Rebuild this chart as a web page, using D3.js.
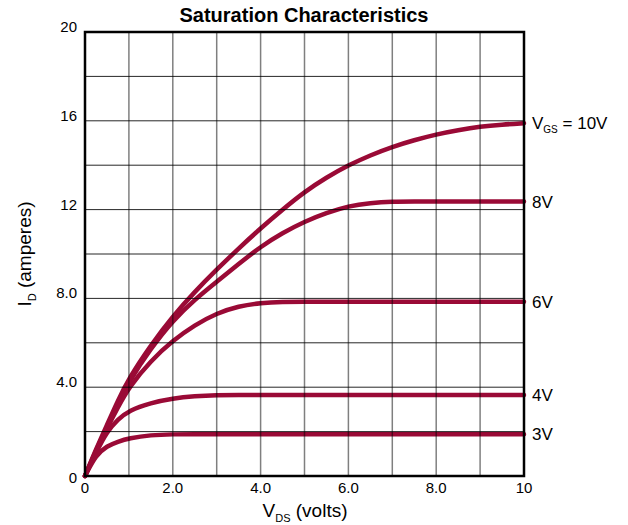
<!DOCTYPE html>
<html>
  <head>
    <meta charset="utf-8">
    <title>Saturation Characteristics</title>
    <script src="https://d3js.org/d3.v7.min.js"></script>
    <style>
      body { margin: 0; background: #fff; }
      svg text { font-family: "Liberation Sans", Arial, sans-serif; fill: #000; }
      .title { font-size: 20px; font-weight: bold; }
      .tick { font-size: 15px; }
      .axisTitle { font-size: 19px; }
      .curveLabel { font-size: 17px; }
    </style>
  </head>
  <body>
    <svg id="chart" width="628" height="525"></svg>
    <script>
      // data
      vds = [0, 0.25, 0.5, 0.75, 1, 1.5, 2, 2.5, 3, 3.5, 4, 4.5, 5, 5.5, 6, 6.5, 7, 7.5, 8, 8.5, 9, 9.5, 10];
      id10 = [0, 1.2, 2.3, 3.4, 4.4, 5.9, 7.2, 8.3, 9.3, 10.25, 11.16, 12.0, 12.8, 13.45, 14.0, 14.45, 14.83, 15.13, 15.39, 15.58, 15.74, 15.83, 15.89];
      id8 = [0, 1.15, 2.2, 3.25, 4.25, 5.75, 7.0, 7.95, 8.75, 9.55, 10.33, 10.95, 11.46, 11.85, 12.16, 12.3, 12.36, 12.36, 12.36, 12.36, 12.36, 12.36, 12.36];
      id6 = [0, 1.1, 2.15, 3.1, 4.0, 5.2, 6.1, 6.8, 7.33, 7.65, 7.8, 7.85, 7.85, 7.85, 7.85, 7.85, 7.85, 7.85, 7.85, 7.85, 7.85, 7.85, 7.85];
      id4 = [0, 1.05, 2.0, 2.55, 2.95, 3.3, 3.5, 3.6, 3.65, 3.65, 3.65, 3.65, 3.65, 3.65, 3.65, 3.65, 3.65, 3.65, 3.65, 3.65, 3.65, 3.65, 3.65];
      id3 = [0, 0.95, 1.35, 1.55, 1.7, 1.85, 1.88, 1.88, 1.88, 1.88, 1.88, 1.88, 1.88, 1.88, 1.88, 1.88, 1.88, 1.88, 1.88, 1.88, 1.88, 1.88, 1.88];
      series = [id10, id8, id6, id4, id3];
      curveLabels = ["= 10V", "8V", "6V", "4V", "3V"];
      xTicks = [0, 2, 4, 6, 8, 10];
      xTickLabels = ["0", "2.0", "4.0", "6.0", "8.0", "10"];
      yTicks = [0, 4, 8, 12, 16, 20];
      yTickLabels = ["0", "4.0", "8.0", "12", "16", "20"];

      chart = d3.select("#chart");
      left = 85; right = 524; top_ = 32; bottom = 476;

      x = d3.scaleLinear().domain([0, 10]).range([left, right]);
      y = d3.scaleLinear().domain([0, 20]).range([bottom, top_]);

      // basis smooths out reading noise in the points
      line = d3.line()
        .x(function(d, i) { return x(vds[i]); })
        .y(function(d) { return y(d); })
        .curve(d3.curveBasis);

      // curves
      chart.append("g").selectAll("path")
          .data(series)
        .enter().append("path")
          .attr("d", line)
          .attr("fill", "none")
          .attr("stroke", "#9a0a36")
          .attr("stroke-width", 4.5)
          .attr("stroke-linecap", "round");

      // grid (drawn over the curves)
      chart.append("g").selectAll("line")
          .data(d3.range(1, 10))
        .enter().append("line")
          .attr("x1", function(d) { return x(d); })
          .attr("x2", function(d) { return x(d); })
          .attr("y1", top_).attr("y2", bottom)
          .attr("stroke", "#000").attr("stroke-opacity", 0.5).attr("stroke-width", 1.5);
      chart.append("g").selectAll("line")
          .data(d3.range(2, 20, 2))
        .enter().append("line")
          .attr("y1", function(d) { return y(d); })
          .attr("y2", function(d) { return y(d); })
          .attr("x1", left).attr("x2", right)
          .attr("stroke", "#000").attr("stroke-opacity", 0.85).attr("stroke-width", 1);

      chart.append("rect")
        .attr("x", left).attr("y", top_)
        .attr("width", right - left).attr("height", bottom - top_)
        .attr("fill", "none").attr("stroke", "#000").attr("stroke-width", 2.5);

      // ticks
      chart.append("g").selectAll("text")
          .data(xTicks)
        .enter().append("text")
          .classed("tick", true)
          .attr("x", function(d) { return x(d); })
          .attr("y", bottom + 17)
          .attr("text-anchor", "middle")
          .text(function(d, i) { return xTickLabels[i]; });
      chart.append("g").selectAll("text")
          .data(yTicks)
        .enter().append("text")
          .classed("tick", true)
          .attr("x", left - 8)
          .attr("y", function(d) { return y(d) + (d === 0 ? 7 : 0); })
          .attr("text-anchor", "end")
          .text(function(d, i) { return yTickLabels[i]; });

      // curve labels
      labels = chart.append("g").selectAll("text")
          .data(series)
        .enter().append("text")
          .classed("curveLabel", true)
          .attr("x", right + 8)
          .attr("y", function(d) { return y(d[d.length - 1]) + 6; });
      labels.each(function(d, i) {
        t = d3.select(this);
        if (i === 0) {
          t.append("tspan").text("V");
          t.append("tspan").attr("dy", 4).style("font-size", "10px").text("GS");
          t.append("tspan").attr("dy", -4).text(" " + curveLabels[i]);
        } else {
          t.text(curveLabels[i]);
        }
      });

      // titles
      chart.append("text")
        .classed("title", true)
        .attr("x", 304).attr("y", 22)
        .attr("text-anchor", "middle")
        .text("Saturation Characteristics");

      xt = chart.append("text")
        .classed("axisTitle", true)
        .attr("x", 305).attr("y", 517)
        .attr("text-anchor", "middle");
      xt.append("tspan").text("V");
      xt.append("tspan").attr("dy", 5).style("font-size", "11px").text("DS");
      xt.append("tspan").attr("dy", -5).text(" (volts)");

      yt = chart.append("text")
        .classed("axisTitle", true)
        .attr("transform", "translate(31," + (bottom + top_) / 2 + ") rotate(-90)")
        .attr("text-anchor", "middle");
      yt.append("tspan").text("I");
      yt.append("tspan").attr("dy", 5).style("font-size", "11px").text("D");
      yt.append("tspan").attr("dy", -5).text(" (amperes)");
    </script>
  </body>
</html>
